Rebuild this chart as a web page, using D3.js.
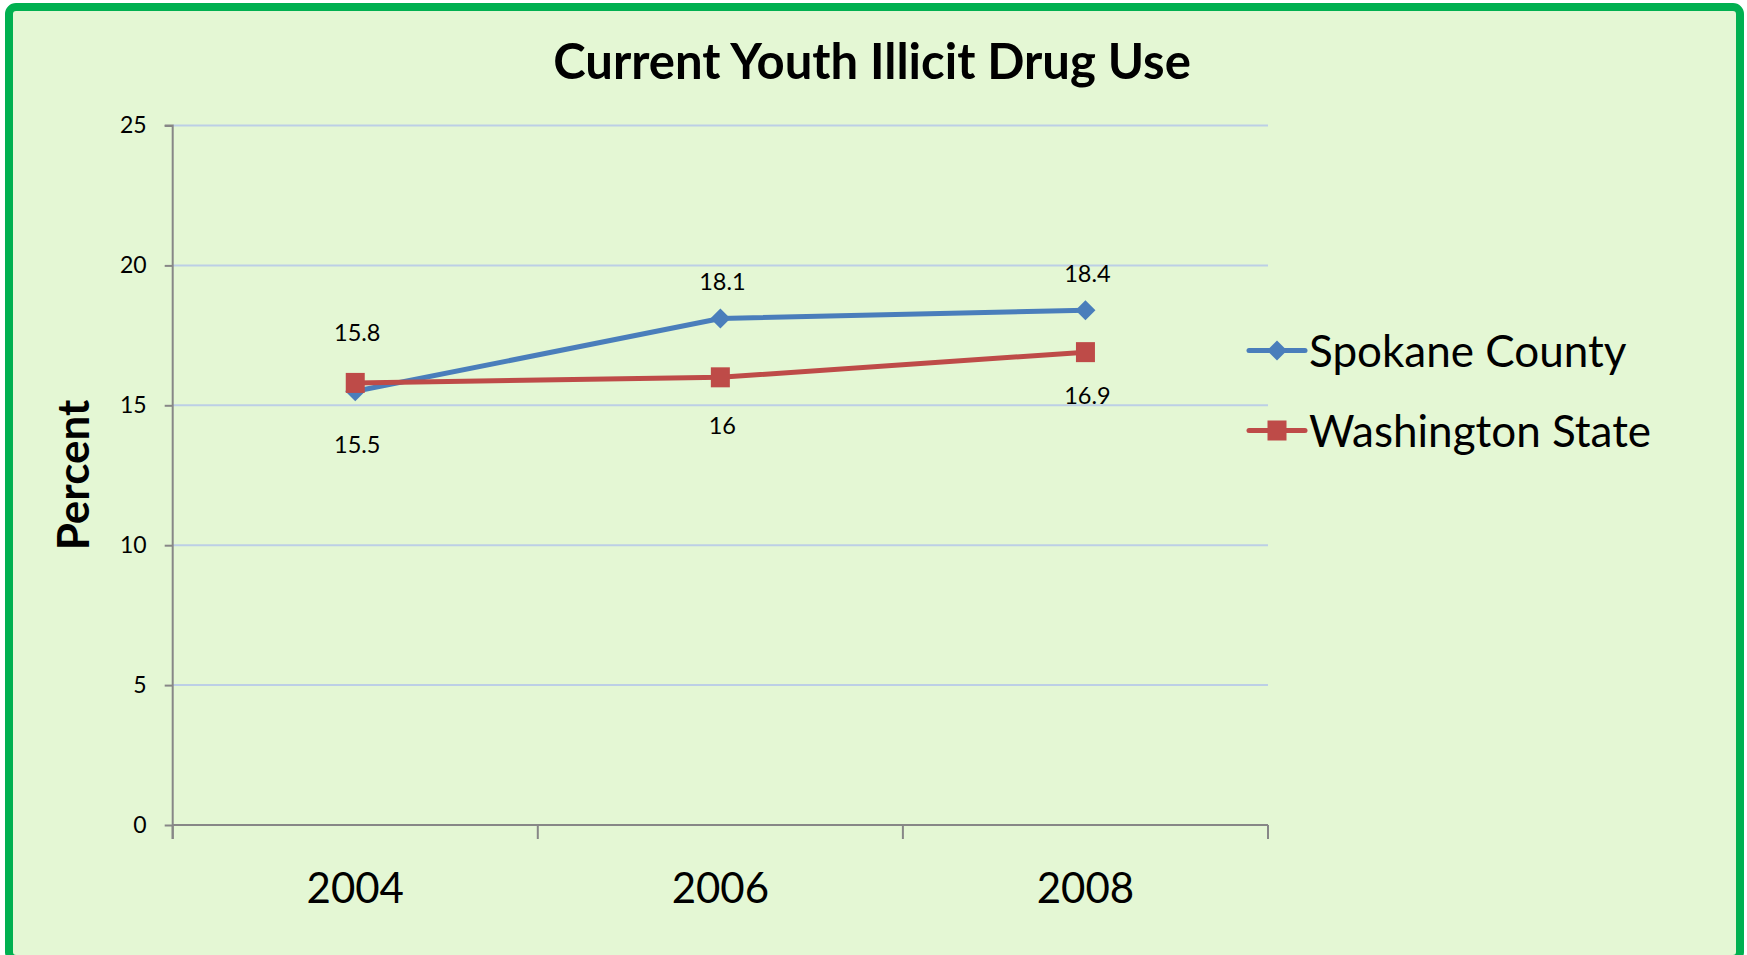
<!DOCTYPE html>
<html>
<head>
<meta charset="utf-8">
<script src="https://cdn.jsdelivr.net/npm/d3@7"></script>
<style>
  html, body { margin: 0; padding: 0; background: #ffffff; }
  svg { display: block; }
  text { font-family: Lato, "Open Sans", sans-serif; fill: #000; }
</style>
</head>
<body>
<svg id="chart" width="1747" height="955"></svg>
<script>
// Survey years and percentages of youth reporting current illicit drug use
const years = ["2004", "2006", "2008"];
const spokaneCounty = [15.5, 18.1, 18.4];
const washingtonState = [15.8, 16, 16.9];
const yTicks = [0, 5, 10, 15, 20, 25];
const seriesNames = ["Spokane County", "Washington State"];

// Vertical offsets of each value label's baseline from its marker
const spokaneLabelDy = [62, -28.5, -28.5];
const washingtonLabelDy = [-42, 57, 52];

const svg = d3.select("#chart");

// Frame with green border
svg.append("rect")
  .attr("x", 9).attr("y", 7)
  .attr("width", 1731).attr("height", 952)
  .attr("rx", 7).attr("ry", 7)
  .attr("fill", "#e4f7d4")
  .attr("stroke", "#00b050")
  .attr("stroke-width", 8);

const plot = { left: 172.7, right: 1268, top: 125.5, bottom: 825 };

const x = d3.scaleBand().domain(years).range([plot.left, plot.right]).padding(0);
const y = d3.scaleLinear().domain([0, 25]).range([plot.bottom, plot.top]);

// Gridlines
svg.append("g")
  .selectAll("line")
  .data(yTicks.filter(d => d > 0))
  .join("line")
  .attr("x1", plot.left).attr("x2", plot.right)
  .attr("y1", d => y(d)).attr("y2", d => y(d))
  .attr("stroke", "#bccfe6")
  .attr("stroke-width", 2);

// Y axis
const yAxis = svg.append("g")
  .attr("transform", `translate(${plot.left},0)`)
  .call(d3.axisLeft(y).tickValues(yTicks).tickSize(8).tickPadding(18).tickFormat(d3.format("d")));
yAxis.select(".domain").attr("stroke", "#878787").attr("stroke-width", 2)
  .attr("d", `M-8,${plot.top}H0V${plot.bottom + 14}`);
yAxis.selectAll(".tick line").attr("stroke", "#878787").attr("stroke-width", 2);
yAxis.selectAll(".tick text")
  .attr("font-family", "Lato").attr("font-size", 23).attr("fill", "#000");

// X axis: labels centred in each band, ticks on band boundaries
const xAxis = svg.append("g")
  .attr("transform", `translate(0,${plot.bottom})`)
  .call(d3.axisBottom(x).tickSize(0).tickPadding(78));
xAxis.select(".domain").attr("stroke", "#878787").attr("stroke-width", 2)
  .attr("d", `M${plot.left},0H${plot.right}`);
xAxis.selectAll(".tick text")
  .attr("font-family", "Lato").attr("font-size", 42).attr("fill", "#000")
  .attr("dy", null).attr("dominant-baseline", "alphabetic");

const boundaries = years.map(d => x(d)).concat([x(years[years.length - 1]) + x.bandwidth()]);
xAxis.append("g").selectAll("line")
  .data(boundaries)
  .join("line")
  .attr("x1", d => d).attr("x2", d => d)
  .attr("y1", 0).attr("y2", 14)
  .attr("stroke", "#878787").attr("stroke-width", 2);

// Series
const series = [
  { name: seriesNames[0], values: spokaneCounty, color: "#4a7ebb", shape: "diamond", labelDy: spokaneLabelDy },
  { name: seriesNames[1], values: washingtonState, color: "#be4b48", shape: "square", labelDy: washingtonLabelDy }
];

const cx = d => x(d) + x.bandwidth() / 2;
const line = d3.line().x(d => cx(d.year)).y(d => y(d.value));

function marker(g, shape, color) {
  if (shape === "diamond") {
    g.append("path").attr("d", "M0,-10L10,0L0,10L-10,0Z").attr("fill", color);
  } else {
    g.append("rect").attr("x", -9.5).attr("y", -10).attr("width", 19).attr("height", 20).attr("fill", color);
  }
}

series.forEach(s => {
  const pts = years.map((yr, i) => ({ year: yr, value: s.values[i], dy: s.labelDy[i] }));
  svg.append("path")
    .datum(pts)
    .attr("d", line)
    .attr("fill", "none")
    .attr("stroke", s.color)
    .attr("stroke-width", 5)
    .attr("stroke-linejoin", "round");
  pts.forEach(p => {
    const g = svg.append("g").attr("transform", `translate(${cx(p.year)},${y(p.value)})`);
    marker(g, s.shape, s.color);
  });
  svg.append("g").selectAll("text")
    .data(pts)
    .join("text")
    .attr("x", d => cx(d.year) + 2)
    .attr("y", d => y(d.value) + d.dy)
    .attr("text-anchor", "middle")
    .attr("font-size", 23.5)
    .text(d => d.value);
});

// Title
svg.append("text")
  .attr("x", 872).attr("y", 79)
  .attr("text-anchor", "middle")
  .attr("font-size", 49)
  .attr("font-weight", "bold")
  .text("Current Youth Illicit Drug Use");

// Y axis title
svg.append("text")
  .attr("transform", "translate(89,475) rotate(-90)")
  .attr("text-anchor", "middle")
  .attr("font-size", 44)
  .attr("font-weight", "bold")
  .text("Percent");

// Legend
const legend = svg.append("g");
series.forEach((s, i) => {
  const ly = 350.5 + i * 80;
  const g = legend.append("g");
  g.append("line")
    .attr("x1", 1249).attr("x2", 1305)
    .attr("y1", ly).attr("y2", ly)
    .attr("stroke", s.color).attr("stroke-width", 5).attr("stroke-linecap", "round");
  const m = g.append("g").attr("transform", `translate(1277,${ly})`);
  marker(m, s.shape, s.color);
  g.append("text")
    .attr("x", 1309).attr("y", ly + 16)
    .attr("font-size", 44)
    .text(s.name);
});
</script>
</body>
</html>
